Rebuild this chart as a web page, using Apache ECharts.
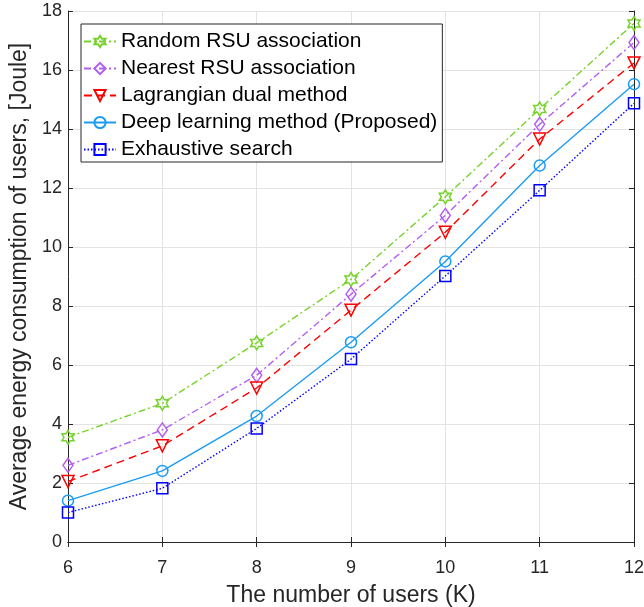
<!DOCTYPE html>
<html><head><meta charset="utf-8">
<script src="https://cdn.jsdelivr.net/npm/echarts@6/dist/echarts.min.js"></script>
<style>html,body{margin:0;padding:0;background:#fff}#c{width:644px;height:607px}</style>
</head><body><div id="c"></div>
<script>
const users = [6, 7, 8, 9, 10, 11, 12];
const randomRSU = [3.55, 4.7, 6.75, 8.9, 11.7, 14.68, 17.58];
const nearestRSU = [2.6, 3.8, 5.65, 8.4, 11.07, 14.16, 16.93];
const lagrangian = [2.05, 3.26, 5.22, 7.86, 10.5, 13.66, 16.24];
const deepLearning = [1.4, 2.41, 4.27, 6.77, 9.51, 12.76, 15.52];
const exhaustive = [1.0, 1.82, 3.85, 6.2, 9.02, 11.92, 14.87];
const names = ['Random RSU association', 'Nearest RSU association', 'Lagrangian dual method', 'Deep learning method (Proposed)', 'Exhaustive search'];

const hexagram = 'path://M0,-10 L2.887,-5 L8.66,-5 L5.77,0 L8.66,5 L2.887,5 L0,10 L-2.887,5 L-8.66,5 L-5.77,0 L-8.66,-5 L-2.887,-5 Z';
const FONT = 'Liberation Sans, Arial, Helvetica, sans-serif';

function mk(name, vals, color, dash, symbol, size, rot) {
  return {
    name: name, type: 'line',
    data: users.map((u, i) => [u, vals[i]]),
    symbol: symbol, symbolSize: size, symbolRotate: rot || 0, symbolKeepAspect: true,
    showAllSymbol: true,
    lineStyle: { color: color, width: 1.4, type: dash },
    itemStyle: { color: 'rgba(255,255,255,0)', borderColor: color, borderWidth: 1.5 },
    emphasis: { disabled: true },
    animation: false, z: 3
  };
}

const chart = echarts.init(document.getElementById('c'));
const axisCol = '#262626';
chart.setOption({
  backgroundColor: '#fff',
  animation: false,
  grid: { left: 68, right: 10, top: 11, bottom: 65, containLabel: false, outerBoundsMode: 'none' },
  legend: {
    orient: 'vertical', left: 81, top: 24,
    backgroundColor: '#fff', borderColor: axisCol, borderWidth: 1,
    padding: [7, 5, 2, 2], itemGap: 6, itemWidth: 32, itemHeight: 14,
    textStyle: { fontFamily: FONT, fontSize: 21, color: '#000', lineHeight: 21 },
    data: names
  },
  xAxis: [{
    type: 'value', min: 6, max: 12, interval: 1,
    name: 'The number of users (K)', nameLocation: 'middle', nameGap: 42,
    nameTextStyle: { fontFamily: FONT, fontSize: 23, color: '#262626' },
    axisLine: { show: true, lineStyle: { color: axisCol, width: 1 } },
    axisTick: { show: true, inside: true, length: 5, lineStyle: { color: axisCol } },
    axisLabel: { fontFamily: FONT, fontSize: 18, color: '#262626', margin: 17 },
    splitLine: { show: true, lineStyle: { color: '#e3e3e3', width: 1 } }
  }, {
    type: 'value', min: 6, max: 12, interval: 1, position: 'top',
    axisLine: { show: true, lineStyle: { color: axisCol, width: 1 } },
    axisTick: { show: true, inside: true, length: 5, lineStyle: { color: axisCol } },
    axisLabel: { show: false }, splitLine: { show: false }
  }],
  yAxis: [{
    type: 'value', min: 0, max: 18, interval: 2,
    name: 'Average energy consumption of users, [Joule]', nameLocation: 'middle', nameGap: 29,
    nameTextStyle: { fontFamily: FONT, fontSize: 23, color: '#262626' },
    axisLine: { show: true, lineStyle: { color: axisCol, width: 1 } },
    axisTick: { show: true, inside: true, length: 5, lineStyle: { color: axisCol } },
    axisLabel: { fontFamily: FONT, fontSize: 18, color: '#262626', margin: 6 },
    splitLine: { show: true, lineStyle: { color: '#e3e3e3', width: 1 } }
  }, {
    type: 'value', min: 0, max: 18, interval: 2, position: 'right',
    axisLine: { show: true, lineStyle: { color: axisCol, width: 1 } },
    axisTick: { show: true, inside: true, length: 5, lineStyle: { color: axisCol } },
    axisLabel: { show: false }, splitLine: { show: false }
  }],
  series: [
    mk(names[0], randomRSU, '#77d22b', [7, 3, 2, 3], hexagram, 14),
    mk(names[1], nearestRSU, '#b35ef2', [7, 3, 2, 3], 'diamond', [10, 14]),
    mk(names[2], lagrangian, '#ff0000', [8, 5], 'triangle', 12, 180),
    mk(names[3], deepLearning, '#1a9cf5', 'solid', 'circle', 11),
    mk(names[4], exhaustive, '#0000ff', [1.5, 2], 'rect', 11)
  ]
});
</script></body></html>
